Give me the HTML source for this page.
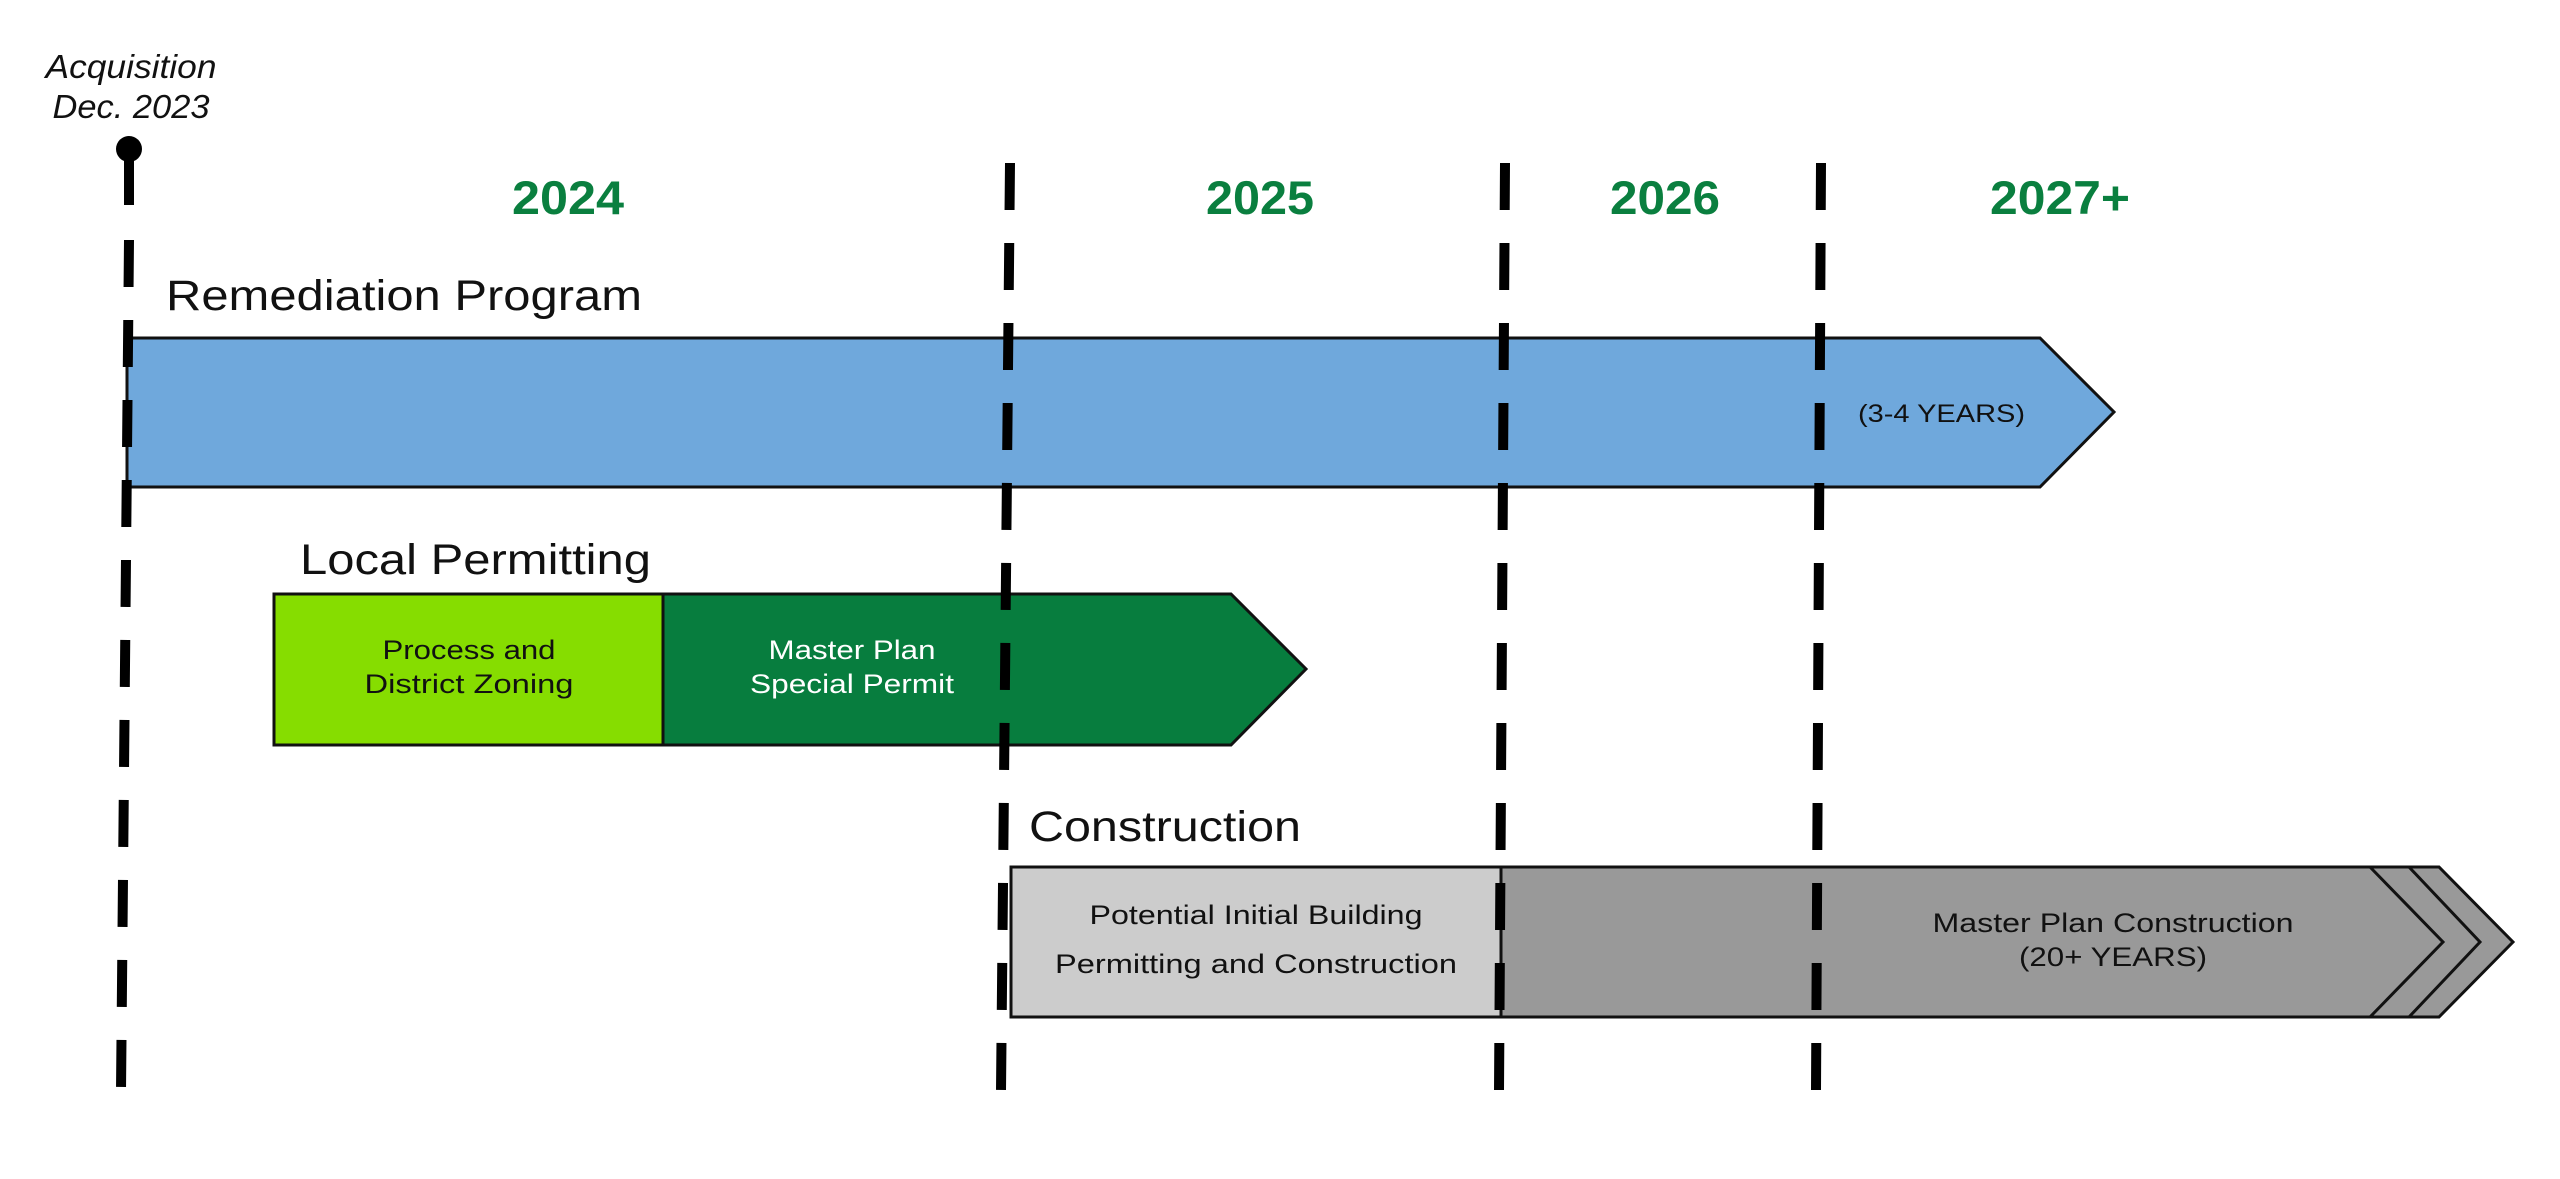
<!DOCTYPE html>
<html><head><meta charset="utf-8"><style>
html,body{margin:0;padding:0;background:#fff;}
svg{display:block;}
text{font-family:"Liberation Sans",sans-serif;}
</style></head><body>
<svg width="2560" height="1179" viewBox="0 0 2560 1179" xmlns="http://www.w3.org/2000/svg">
<rect width="2560" height="1179" fill="#fff"/>
<!-- Acquisition -->
<text x="131" y="78" font-size="33" font-style="italic" text-anchor="middle" fill="#111" textLength="171" lengthAdjust="spacingAndGlyphs">Acquisition</text>
<text x="131" y="118" font-size="33" font-style="italic" text-anchor="middle" fill="#111" textLength="157" lengthAdjust="spacingAndGlyphs">Dec. 2023</text>
<circle cx="129" cy="149" r="13" fill="#000"/>
<line x1="129" y1="149" x2="129" y2="205" stroke="#000" stroke-width="10"/>
<!-- years -->
<g font-size="47" font-weight="bold" fill="#0a7f3f" text-anchor="middle" lengthAdjust="spacingAndGlyphs">
<text x="568" y="214" textLength="112" lengthAdjust="spacingAndGlyphs">2024</text>
<text x="1260" y="214" textLength="108" lengthAdjust="spacingAndGlyphs">2025</text>
<text x="1665" y="214" textLength="110" lengthAdjust="spacingAndGlyphs">2026</text>
<text x="2060" y="214" textLength="140" lengthAdjust="spacingAndGlyphs">2027+</text>
</g>
<!-- Remediation -->
<text x="166" y="310" font-size="43" fill="#111" textLength="476" lengthAdjust="spacingAndGlyphs">Remediation Program</text>
<polygon points="127,338 2040,338 2114,412 2040,487 127,487" fill="#6fa8dc" stroke="#111" stroke-width="3"/>
<text x="1858" y="422" font-size="25" fill="#111" textLength="167" lengthAdjust="spacingAndGlyphs">(3-4 YEARS)</text>
<!-- Local permitting -->
<text x="300" y="574" font-size="43" fill="#111" textLength="351" lengthAdjust="spacingAndGlyphs">Local Permitting</text>
<rect x="274" y="594" width="389" height="151" fill="#86dd00" stroke="#111" stroke-width="3"/>
<polygon points="663,594 1231,594 1306,669 1231,745 663,745" fill="#077d3e" stroke="#111" stroke-width="3"/>
<g font-size="27" text-anchor="middle">
<text x="469" y="659" fill="#111" textLength="173" lengthAdjust="spacingAndGlyphs">Process and</text>
<text x="469" y="693" fill="#111" textLength="209" lengthAdjust="spacingAndGlyphs">District Zoning</text>
<text x="852" y="659" fill="#fff" textLength="167" lengthAdjust="spacingAndGlyphs">Master Plan</text>
<text x="852" y="693" fill="#fff" textLength="204" lengthAdjust="spacingAndGlyphs">Special Permit</text>
</g>
<!-- Construction -->
<text x="1029" y="841" font-size="43" fill="#111" textLength="272" lengthAdjust="spacingAndGlyphs">Construction</text>
<polygon points="1501,867 2439,867 2513,942 2439,1017 1501,1017" fill="#999" stroke="#111" stroke-width="3"/>
<polyline points="2370,867 2443,942 2370,1017" fill="none" stroke="#111" stroke-width="3"/>
<polyline points="2409,867 2480,942 2409,1017" fill="none" stroke="#111" stroke-width="3"/>
<rect x="1011" y="867" width="490" height="150" fill="#cccccc" stroke="#111" stroke-width="3"/>
<g font-size="27" text-anchor="middle" fill="#111">
<text x="1256" y="924" textLength="333" lengthAdjust="spacingAndGlyphs">Potential Initial Building</text>
<text x="1256" y="973" textLength="402" lengthAdjust="spacingAndGlyphs">Permitting and Construction</text>
<text x="2113" y="932" textLength="361" lengthAdjust="spacingAndGlyphs">Master Plan Construction</text>
<text x="2113" y="966" textLength="188" lengthAdjust="spacingAndGlyphs">(20+ YEARS)</text>
</g>
<!-- dashed lines -->
<g stroke="#000" stroke-width="10" stroke-dasharray="47 33" fill="none">
<line x1="129" y1="240" x2="121" y2="1091"/>
<line x1="1010" y1="163" x2="1001" y2="1091"/>
<line x1="1505" y1="163" x2="1499" y2="1091"/>
<line x1="1821" y1="163" x2="1816" y2="1091"/>
</g>
</svg>
</body></html>
